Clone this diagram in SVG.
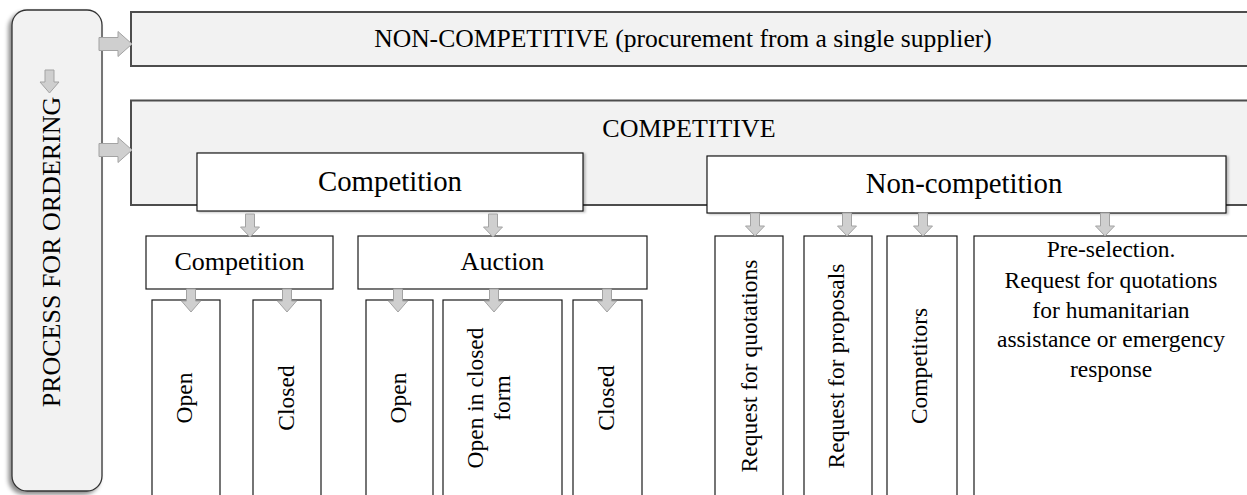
<svg xmlns="http://www.w3.org/2000/svg" width="1247" height="495" viewBox="0 0 1247 495">
  <defs>
    <filter id="panelShadow" x="-20%" y="-5%" width="140%" height="110%">
      <feDropShadow dx="-3" dy="3" stdDeviation="2" flood-color="#000" flood-opacity="0.45"/>
    </filter>
    <filter id="boxShadow" x="-5%" y="-10%" width="110%" height="130%">
      <feDropShadow dx="2" dy="1" stdDeviation="0.8" flood-color="#000" flood-opacity="0.25"/>
    </filter>
  </defs>
  <style>
    .lbl { font-family: "Liberation Serif", "Times New Roman", serif; fill: #000; text-anchor: middle; }
    .t26 { font-size: 26px; }
    .t29 { font-size: 28.8px; }
    .t23 { font-size: 23.5px; }
    .band { fill: #f2f2f2; stroke: #4d4d4d; stroke-width: 2; }
    .panel { fill: #f2f2f2; stroke: #333; stroke-width: 1.3; }
    .box { fill: #fff; stroke: #1a1a1a; stroke-width: 1.2; }
    .arrow { fill: #cfcfcf; stroke: #a3a3a3; stroke-width: 1; }
  </style>

  <!-- left vertical panel -->
  <g id="process">
    <rect class="panel" x="12" y="10" width="90" height="481" rx="15" ry="15" filter="url(#panelShadow)"/>
    <text class="lbl t26" transform="translate(60,252) rotate(-90)">PROCESS FOR ORDERING</text>
  </g>

  <!-- top band -->
  <g id="non-competitive">
    <rect class="band" x="131" y="12" width="1130" height="54"/>
    <text class="lbl" font-size="25.6" x="683" y="47">NON-COMPETITIVE (procurement from a single supplier)</text>
  </g>

  <!-- competitive band -->
  <g id="competitive">
    <rect class="band" x="131" y="100.5" width="1130" height="104.5"/>
    <text class="lbl t26" x="689" y="137">COMPETITIVE</text>
  </g>

  <!-- second-level headers -->
  <g id="competition-header">
    <rect class="box" x="197" y="153" width="386" height="58" filter="url(#boxShadow)"/>
    <text class="lbl t29" x="390" y="191">Competition</text>
  </g>
  <g id="non-competition-header">
    <rect class="box" x="707" y="156" width="519" height="57" filter="url(#boxShadow)"/>
    <text class="lbl t29" x="964" y="193">Non-competition</text>
  </g>

  <!-- competition branch -->
  <g id="competition">
    <rect class="box" x="146" y="236" width="187" height="53"/>
    <text class="lbl t26" x="239.5" y="270">Competition</text>
  </g>
  <g id="auction">
    <rect class="box" x="358" y="236" width="289" height="53"/>
    <text class="lbl t26" x="502.5" y="270">Auction</text>
  </g>

  <g id="competition-open">
    <rect class="box" x="152" y="300" width="68" height="205"/>
    <text class="lbl t23" transform="translate(192,398) rotate(-90)">Open</text>
  </g>
  <g id="competition-closed">
    <rect class="box" x="253" y="300" width="68" height="205"/>
    <text class="lbl t23" transform="translate(294,398) rotate(-90)">Closed</text>
  </g>
  <g id="auction-open">
    <rect class="box" x="366" y="300" width="67" height="205"/>
    <text class="lbl t23" transform="translate(406,398) rotate(-90)">Open</text>
  </g>
  <g id="auction-open-closed-form">
    <rect class="box" x="443" y="300" width="119" height="205"/>
    <text class="lbl t23" transform="translate(483,398) rotate(-90)">Open in closed</text>
    <text class="lbl t23" transform="translate(510,398) rotate(-90)">form</text>
  </g>
  <g id="auction-closed">
    <rect class="box" x="573" y="300" width="69" height="205"/>
    <text class="lbl t23" transform="translate(614,398) rotate(-90)">Closed</text>
  </g>

  <!-- non-competition branch -->
  <g id="request-quotations">
    <rect class="box" x="715" y="236" width="68" height="269"/>
    <text class="lbl t23" transform="translate(757,366) rotate(-90)">Request for quotations</text>
  </g>
  <g id="request-proposals">
    <rect class="box" x="804" y="236" width="68" height="269"/>
    <text class="lbl t23" transform="translate(844,366) rotate(-90)">Request for proposals</text>
  </g>
  <g id="competitors">
    <rect class="box" x="887" y="236" width="70" height="269"/>
    <text class="lbl t23" transform="translate(927,366) rotate(-90)">Competitors</text>
  </g>
  <g id="pre-selection">
    <rect class="box" x="974" y="236" width="290" height="269"/>
    <text class="lbl t23" x="1111" y="257">Pre-selection.</text>
    <text class="lbl t23" x="1111" y="288">Request for quotations</text>
    <text class="lbl t23" x="1111" y="318">for humanitarian</text>
    <text class="lbl t23" x="1111" y="347">assistance or emergency</text>
    <text class="lbl t23" x="1111" y="377">response</text>
  </g>

  <!-- connectors: block arrows -->
  <g id="connectors">
    <path class="arrow" d="M99,37.5 h19 v-6 l14,12.5 l-14,12.5 v-6 h-19 z"/>
    <path class="arrow" d="M99,143.5 h19 v-6 l14,12.5 l-14,12.5 v-6 h-19 z"/>
    <path class="arrow" d="M45,70 h9 v12 h5 l-9.5,11 l-9.5,-11 h5 z"/>

    <path class="arrow" d="M245.5,214 h9 v13 h5 l-9.5,10 l-9.5,-10 h5 z"/>
    <path class="arrow" d="M488.5,214 h9 v13 h5 l-9.5,10 l-9.5,-10 h5 z"/>

    <path class="arrow" d="M186.5,289 h9 v12 h5 l-9.5,11 l-9.5,-11 h5 z"/>
    <path class="arrow" d="M282.5,289 h9 v12 h5 l-9.5,11 l-9.5,-11 h5 z"/>
    <path class="arrow" d="M393.5,289 h9 v12 h5 l-9.5,11 l-9.5,-11 h5 z"/>
    <path class="arrow" d="M489.5,289 h9 v12 h5 l-9.5,11 l-9.5,-11 h5 z"/>
    <path class="arrow" d="M602.5,289 h9 v12 h5 l-9.5,11 l-9.5,-11 h5 z"/>

    <path class="arrow" d="M750.5,213 h9 v13 h5 l-9.5,10 l-9.5,-10 h5 z"/>
    <path class="arrow" d="M842.5,213 h9 v13 h5 l-9.5,10 l-9.5,-10 h5 z"/>
    <path class="arrow" d="M918.5,213 h9 v13 h5 l-9.5,10 l-9.5,-10 h5 z"/>
    <path class="arrow" d="M1100.5,213 h9 v13 h5 l-9.5,10 l-9.5,-10 h5 z"/>
  </g>
</svg>
